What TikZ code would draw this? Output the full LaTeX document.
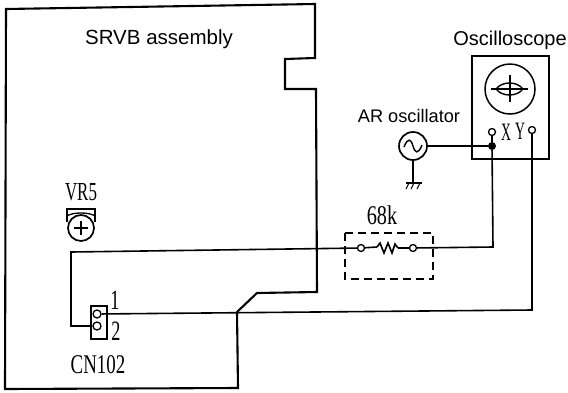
\documentclass[tikz,border=0pt]{standalone}
\usepackage{fontspec}
\setmainfont{Liberation Sans}
\newfontfamily\serifcond{Liberation Serif}
\tikzset{
  x=1pt,y=-1pt,
  thickline/.style={line width=2.1pt,line join=miter},
  wire/.style={line width=1.6pt},
  sanslabel/.style={inner sep=0pt,anchor=base},
  seriflabel/.style={inner sep=0pt,anchor=base,transform shape},
  openpin/.style={circle,draw,line width=1.3pt,fill=white,minimum size=7pt,inner sep=0pt},
  dotpin/.style={circle,fill=black,minimum size=8pt,inner sep=0pt},
  dashbox/.style={line width=1.4pt,dash pattern=on 8pt off 5pt},
}
\newcommand{\sfz}[1]{\fontsize{#1}{#1}\selectfont}
\newcommand{\srf}[1]{\serifcond\fontsize{#1}{#1}\selectfont}
\begin{document}
\begin{tikzpicture}
\useasboundingbox (0,0) rectangle (568,392);
% board outline
\draw[thickline] (6,9) -- (315,4) -- (315,58) -- (285,59) -- (285,89) -- (316,89) -- (317,292) -- (257,293) -- (237,312) -- (238,388) -- (5,389) -- cycle;
\node[sanslabel,font=\sfz{20.5}] (srvb) at (159,44) {SRVB assembly};
% oscilloscope
\draw[thickline,line width=2.3pt] (472,56) rectangle (549,159);
\node[sanslabel,font=\sfz{20}] (osc) at (510,45) {Oscilloscope};
\node[circle,draw,line width=1.5pt,minimum size=50pt,inner sep=0pt] (crt) at (510,89) {};
\draw[line width=1.1pt] (510,75) -- (510,102);
\draw[line width=1.1pt] (491,89) -- (528,89);
\draw[line width=1.4pt] (496,89) .. controls (502,81) and (517,81) .. (523,89) .. controls (517,97) and (502,97) .. (496,89);
\node[openpin] (px) at (492,132) {};
\node[openpin] (py) at (532,130) {};
\node[dotpin] (dot) at (492,146) {};
\node[seriflabel,xscale=0.55,font=\srf{25}] (lx) at (506,140) {X};
\node[seriflabel,xscale=0.55,font=\srf{25}] (ly) at (520,139) {Y};
% AR oscillator
\node[sanslabel,font=\sfz{18.2}] (ar) at (409,122) {AR oscillator};
\node[circle,draw,line width=1.7pt,minimum size=28pt,inner sep=0pt] (gen) at (413,146) {};
\draw[line width=1.4pt] (404,147) .. controls (408,137) and (411,139) .. (413,146) .. controls (415,153) and (418,155) .. (422,145);
\coordinate (gnd) at (413,183);
\draw[wire] (gen) -- (gnd);
\draw[line width=1.4pt] (406,183) -- (422,183);
\draw[line width=1.1pt] (409,183) -- (406,189) (414,183) -- (411,189) (420,183) -- (417,189);
\draw[wire] (gen) -- (dot);
% CN102
\draw[line width=1.6pt] (91,306) rectangle (107,339);
\node[openpin,minimum size=8pt] (p1) at (97,314) {};
\node[openpin,minimum size=8pt] (p2) at (97,326) {};
\node[seriflabel,xscale=0.65,font=\srf{28}] (l1) at (115,309) {1};
\node[seriflabel,xscale=0.65,font=\srf{28}] (l2) at (116,340) {2};
\node[seriflabel,xscale=0.7,font=\srf{27}] (cn) at (98,373) {CN102};
% VR5
\node[seriflabel,xscale=0.65,font=\srf{26}] (vr) at (81,200) {VR5};
\draw[line width=1.5pt] (67,222) -- (67,209) -- (95,209) -- (95,222);
\node[circle,draw,line width=1.7pt,minimum size=26pt,inner sep=0pt] (vrc) at (81,228) {};
\draw[line width=1.6pt] (74,228) -- (88,228) (81,221) -- (81,235);
\draw[line width=1.3pt] (67,216) .. controls (72,212) and (90,212) .. (95,216);
% resistor
\draw[dashbox] (345,233) rectangle (433,279);
\node[openpin,minimum size=7pt] (r1) at (361,248) {};
\node[openpin,minimum size=7pt] (r2) at (413,248) {};
\node[seriflabel,xscale=0.75,font=\srf{27}] (rv) at (382,224) {68k};
\coordinate (za) at (377,247);
\coordinate (zb) at (398,248);
\draw[wire] (r1) -- (za) (zb) -- (r2);
\draw[wire,line join=miter] (za) -- (380,243) -- (384,253) -- (388,243) -- (392,253) -- (395,244) -- (zb);
% wires
\coordinate (w1) at (71,326);
\coordinate (w2) at (71,252);
\draw[wire] (p2) -- (w1) -- (w2) -- (r1);
\coordinate (w3) at (493,247);
\draw[wire] (r2) -- (w3) -- (dot) -- (px);
\coordinate (w4) at (532,310);
\draw[wire] (py) -- (w4) -- (p1);
\end{tikzpicture}
\end{document}
